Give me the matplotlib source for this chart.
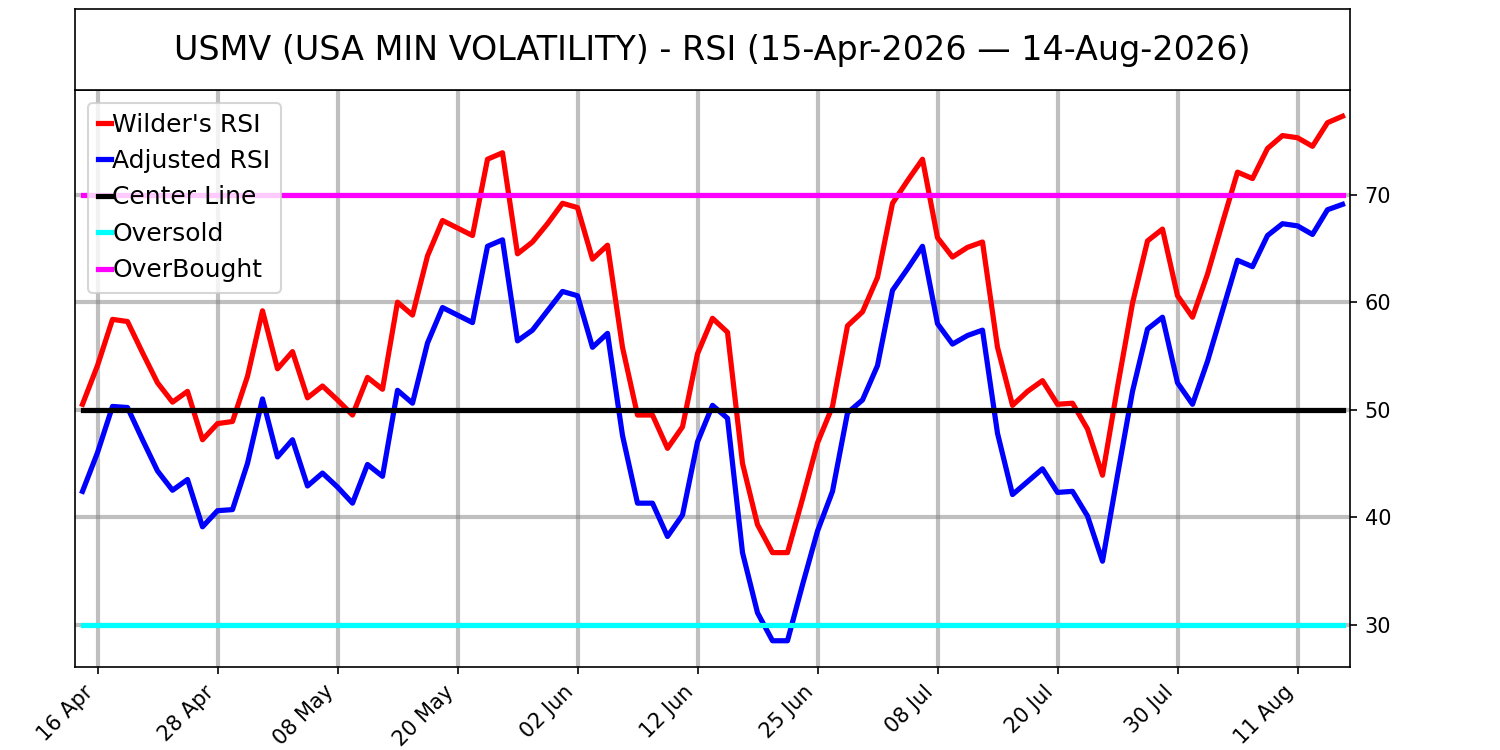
import matplotlib
matplotlib.use("Agg")
import matplotlib.pyplot as plt
import numpy as np

title = "USMV (USA MIN VOLATILITY) - RSI (15-Apr-2026 \u2014 14-Aug-2026)"

wilder_rsi = [50.5, 54.1, 58.4, 58.2, 55.3, 52.5, 50.7, 51.7, 47.2, 48.7,
              48.9, 53.1, 59.2, 53.8, 55.4, 51.1, 52.2, 50.9, 49.5, 53.0,
              51.9, 60.0, 58.8, 64.3, 67.6, 66.9, 66.2, 73.3, 73.9, 64.5,
              65.6, 67.3, 69.2, 68.8, 64.0, 65.3, 55.8, 49.5, 49.5, 46.4,
              48.4, 55.2, 58.5, 57.2, 45.0, 39.3, 36.7, 36.7, 41.7, 46.9,
              50.3, 57.8, 59.1, 62.3, 69.2, 71.3, 73.3, 66.0, 64.2, 65.1,
              65.6, 55.8, 50.4, 51.7, 52.7, 50.5, 50.6, 48.2, 43.9, 52.1,
              59.9, 65.7, 66.8, 60.6, 58.6, 62.6, 67.4, 72.1, 71.5, 74.3,
              75.5, 75.3, 74.5, 76.7, 77.3]

adjusted_rsi = [42.4, 46.0, 50.3, 50.2, 47.2, 44.3, 42.5, 43.5, 39.1, 40.6,
                40.7, 45.0, 51.0, 45.6, 47.2, 42.9, 44.1, 42.8, 41.3, 44.9,
                43.8, 51.8, 50.6, 56.2, 59.5, 58.8, 58.1, 65.2, 65.8, 56.4,
                57.4, 59.2, 61.0, 60.6, 55.8, 57.1, 47.6, 41.3, 41.3, 38.2,
                40.2, 47.0, 50.4, 49.2, 36.7, 31.1, 28.5, 28.5, 33.7, 38.7,
                42.4, 49.7, 50.9, 54.1, 61.1, 63.1, 65.2, 58.0, 56.1, 56.9,
                57.4, 47.8, 42.1, 43.3, 44.5, 42.3, 42.4, 40.1, 35.9, 43.9,
                51.7, 57.5, 58.6, 52.5, 50.5, 54.5, 59.2, 63.9, 63.3, 66.2,
                67.3, 67.1, 66.3, 68.6, 69.1]

center_level = 50
oversold_level = 30
overbought_level = 70

tick_labels = ["16 Apr", "28 Apr", "08 May", "20 May", "02 Jun", "12 Jun",
               "25 Jun", "08 Jul", "20 Jul", "30 Jul", "11 Aug"]
tick_first_index = 1
tick_step = 8

n = len(wilder_rsi)
x = np.arange(n)

fig = plt.figure(figsize=(10, 5), dpi=150)
ax = fig.add_axes([0.05, 0.1107, 0.85, 0.7693])
tax = fig.add_axes([0.05, 0.88, 0.85, 0.108])

tax.set_xticks([])
tax.set_yticks([])
tax.text(0.5, 0.49, title, ha="center", va="center", fontsize=16,
         transform=tax.transAxes)

lw = 2.5
ax.plot(x, wilder_rsi, color="red", lw=lw, label="Wilder's RSI", zorder=3)
ax.plot(x, adjusted_rsi, color="blue", lw=lw, label="Adjusted RSI", zorder=3)
ax.plot(x, [center_level] * n, color="black", lw=lw, label="Center Line", zorder=4)
ax.plot(x, [oversold_level] * n, color="cyan", lw=lw, label="Oversold", zorder=4)
ax.plot(x, [overbought_level] * n, color="magenta", lw=lw, label="OverBought", zorder=4)

ax.set_xlim(-0.5, n - 0.5)
ticks = list(range(tick_first_index, n, tick_step))[:len(tick_labels)]
ax.set_xticks(ticks)
ax.set_xticklabels(tick_labels, rotation=45, ha="right", fontsize=10)
ax.yaxis.tick_right()
ax.tick_params(axis="y", labelsize=10)
ax.grid(True, color="gray", alpha=0.5, lw=2, zorder=0)
ax.set_axisbelow(True)

ax.legend(loc="upper left", fontsize=12, handlelength=0.55, handletextpad=0.05,
          borderaxespad=0.5)

fig.savefig("out.png", dpi=150)
